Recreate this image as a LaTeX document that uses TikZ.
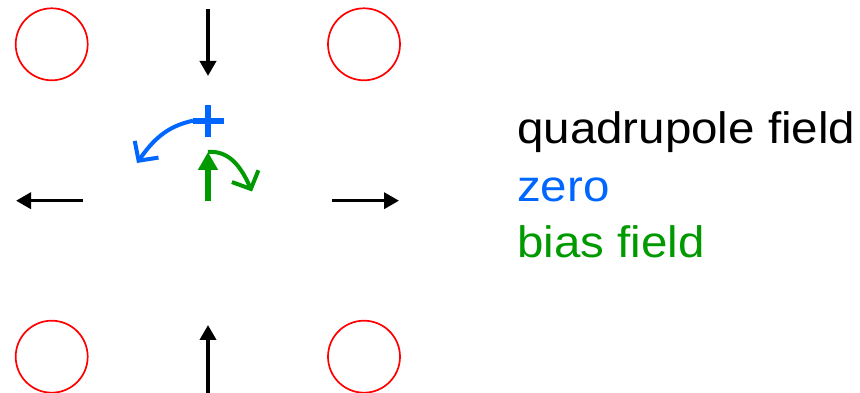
\documentclass[tikz,border=0pt]{standalone}
\usepackage{fontspec}
\setmainfont{Liberation Sans}
\usetikzlibrary{arrows.meta,positioning}

\begin{document}
\begin{tikzpicture}[x=1pt, y=1pt,
    magnet/.style={draw=coilred, line width=1.7pt},
    quadarrow/.style={line width=3.6pt, -{Triangle[length=15pt,width=16pt]}},
    biasarrow/.style={draw=biasgreen, line width=5.5pt, -{Triangle[length=18pt,width=19pt]}},
    zeroarc/.style={draw=zeroblue, line width=4pt, -{Straight Barb[length=14pt,width=29pt,line width=4pt]}},
    biasarc/.style={draw=biasgreen, line width=4pt, -{Straight Barb[length=14pt,width=29pt,line width=4pt]}},
    legend/.style={anchor=base west, inner sep=0pt, font=\fontsize{44}{52}\selectfont}]
\definecolor{coilred}{RGB}{255,0,0}
\definecolor{zeroblue}{RGB}{0,102,255}
\definecolor{biasgreen}{RGB}{0,153,0}

\useasboundingbox (0,0) rectangle (860,393);

% ======================================================
% bobine
% ======================================================
\draw[magnet] (51.7,348.7) circle [radius=36];
\draw[magnet] (364,348.7) circle [radius=36];
\draw[magnet] (51.7,36.3) circle [radius=36];
\draw[magnet] (364,36.3) circle [radius=36];

% ======================================================
% campo di quadrupolo
% ======================================================
\coordinate (c) at (208,192.3);
\draw[quadarrow] (208,384) -- (208,317);
\draw[quadarrow] (208,0) -- (208,68);
\draw[quadarrow] (83,192.3) -- (16,192.3);
\draw[quadarrow] (332,192.3) -- (399,192.3);

% zero
\coordinate (zero) at (208,272.3);
\draw[zeroblue, line width=6.3pt]
  ([xshift=-15.5pt]zero) -- ([xshift=15.5pt]zero)
  ([yshift=-16pt]zero) -- ([yshift=16pt]zero);
\coordinate (zeroend) at (137,230);
\draw[zeroarc] ([xshift=-15pt]zero) to[out=192, in=55] (zeroend);

% campo di bias
\coordinate (biastip) at (208,241);
\draw[biasarrow] (c) -- (biastip);
\coordinate (biasend) at (252,201.5);
\draw[biasarc] (biastip) to[out=5, in=114] (biasend);

% Etichette
\node[legend] (lquad) at (517,249.7) {\scalebox{1.08}[1]{quadrupole field}};
\node[legend, text=zeroblue] (lzero) at (517,191.3) {\scalebox{1.08}[1]{zero}};
\node[legend, text=biasgreen] (lbias) at (517,135.3) {\scalebox{1.08}[1]{bias field}};

\end{tikzpicture}
\end{document}
